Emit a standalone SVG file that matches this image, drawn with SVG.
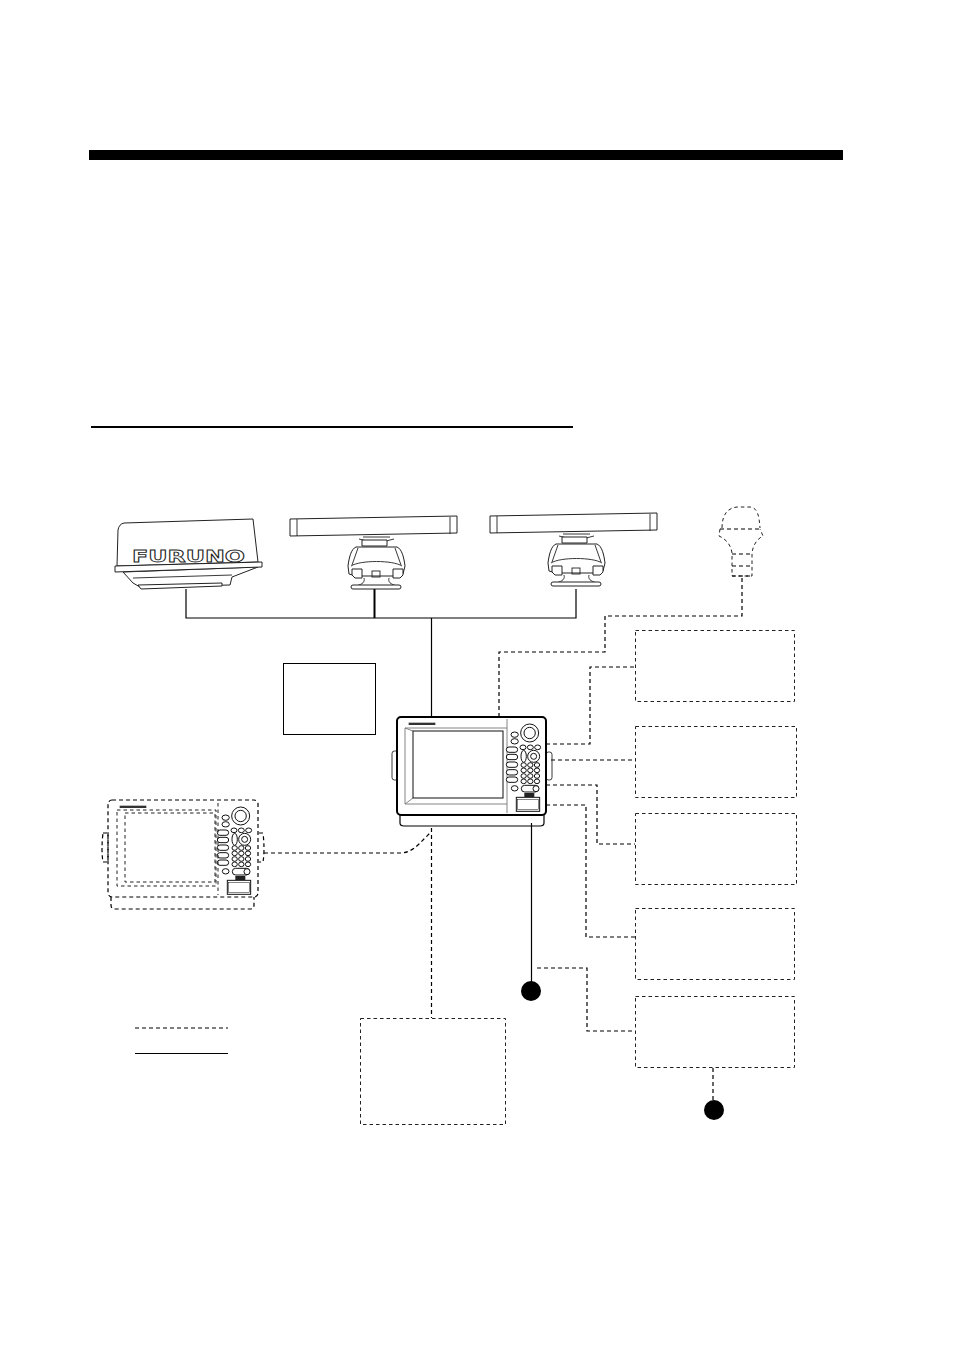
<svg xmlns="http://www.w3.org/2000/svg" width="954" height="1351" viewBox="0 0 954 1351">
<style>
.s{fill:none;stroke:#000;stroke-width:1.2}
.d{fill:none;stroke:#000;stroke-width:1.2;stroke-dasharray:4 3}
.box{fill:none;stroke:#222;stroke-width:1;stroke-dasharray:3.500 3}
.o{fill:#fff;stroke:#222;stroke-width:1}
.t{fill:none;stroke:#222;stroke-width:.9}
.g{fill:none;stroke:#777;stroke-width:.9}
.p{fill:#fff;stroke:#111;stroke-width:3}
.k{fill:#000}
</style>
<defs>
<g id="pedestal">
<path class="o" d="M0 3L167 0V17L0 20Z"/>
<path class="t" d="M7 3V20M160 1V18"/>
<path class="t" d="M73 21H100M69 23L77 25M96 25L104 23"/>
<path class="o" d="M72 24H97V30H72Z"/>
<path class="o" d="M66 31H107C112 33 114 42 115 50L113 58L108 60L66 60L59 58L58 50C59 42 61 33 66 31Z"/>
<path class="t" d="M61 50C70 44 103 44 112 50M68 32L62 49M105 32L111 49"/>
<path class="o" d="M62 53H72V62H65L62 59ZM103 53H113V59L110 62H103Z"/>
<rect class="t" x="82" y="55" width="8" height="6"/>
<path class="t" d="M74 62C75 66 73 68 66 70M99 62C98 66 100 68 107 70"/>
<rect class="o" x="61" y="69" width="50" height="4" rx="2"/>
</g>
<g id="panel" transform="scale(.3333) translate(-50,-52)">
<g class="p">
<circle cx="448" cy="100" r="27"/>
<circle cx="448" cy="100" r="17"/>
<ellipse cx="403" cy="105" rx="11" ry="8"/><ellipse cx="403" cy="125" rx="11" ry="8"/>
<rect x="378" y="142" width="34" height="16" rx="8"/><rect x="378" y="164" width="34" height="16" rx="8"/><rect x="378" y="187" width="34" height="16" rx="8"/><rect x="378" y="210" width="34" height="16" rx="8"/><rect x="378" y="232" width="34" height="16" rx="8"/>
<ellipse cx="403" cy="266" rx="10" ry="8"/>
<ellipse cx="428" cy="143" rx="9" ry="7"/><ellipse cx="450" cy="143" rx="9" ry="7"/><ellipse cx="472" cy="143" rx="9" ry="7"/>
<ellipse cx="430" cy="170" rx="8" ry="18"/>
<circle cx="460" cy="170" r="18"/><circle cx="460" cy="170" r="9"/>
<ellipse cx="430" cy="196" rx="8" ry="7"/><ellipse cx="450" cy="196" rx="8" ry="7"/><ellipse cx="470" cy="196" rx="8" ry="7"/>
<ellipse cx="430" cy="212" rx="8" ry="7"/><ellipse cx="450" cy="212" rx="8" ry="7"/><ellipse cx="470" cy="212" rx="8" ry="7"/>
<ellipse cx="430" cy="229" rx="8" ry="7"/><ellipse cx="450" cy="229" rx="8" ry="7"/><ellipse cx="470" cy="229" rx="8" ry="7"/>
<ellipse cx="430" cy="245" rx="8" ry="7"/><ellipse cx="450" cy="245" rx="8" ry="7"/><ellipse cx="470" cy="245" rx="8" ry="7"/>
<rect x="423" y="257" width="52" height="20" rx="10"/>
<circle cx="467" cy="267" r="9"/>
<rect x="408" y="293" width="70" height="42"/>
<rect x="412" y="300" width="62" height="30" stroke-width="1.500"/>
</g>
<path d="M432 280H462V292H432Z" fill="#222"/>
<path d="M85 69H165V76H85Z" fill="#333"/>
</g>
</defs>

<rect id="title-rule" x="89" y="150" width="754" height="10" fill="#000"/>
<rect id="heading-rule" x="91" y="426" width="482" height="2" fill="#000"/>

<g id="connectors">
<path class="s" d="M186 589V618H576V589M431.500 618V716"/>
<path d="M374.500 589V618" fill="none" stroke="#000" stroke-width="2"/>
<path class="d" d="M742 578V616H605V652H499V716"/>
<path class="d" d="M546 744H590V667H635"/>
<path class="d" d="M551 760H635"/>
<path class="d" d="M546 785H597V844H635"/>
<path class="d" d="M546 805H586V937H635"/>
<path class="d" d="M264 853H400Q410 853 419 844L431 832"/>
<path class="d" d="M431.500 828V1018"/>
<path class="s" d="M531.500 823V982"/>
<path class="d" d="M537 968H587V1031H635"/>
<path class="d" d="M713 1068V1100"/>
<path class="d" d="M135 1028H228"/>
<path class="s" d="M135 1053.500H228"/>
</g>

<g id="radome">
<path class="o" d="M124 523L253 519L258 562L117 566L118 530Q119 524 124 523Z"/>
<path class="o" d="M123 572L258 567L232 577L230 585L140 587L133 583Z"/>
<path class="t" d="M133 578L232 575"/>
<path class="o" d="M138 585L222 583V586L141 589Z"/>
<path class="o" d="M115 566L262 562V567L115 572Z"/>
<g opacity=".98" style="isolation:isolate"><text x="132" y="562" font-family="DejaVu Sans, sans-serif" font-size="16" font-weight="bold" textLength="113" lengthAdjust="spacingAndGlyphs" fill="#fff" stroke="#222" stroke-width=".8">FURUNO</text></g>
</g>
<use id="radar-1" href="#pedestal" transform="translate(290,516)"/>
<use id="radar-2" href="#pedestal" transform="translate(490,513)"/>

<g id="gps-antenna">
<path class="box" d="M722 528C722 514 728 508 737 507H750C758 508 759 516 760 528"/>
<path class="d" d="M720 529H760" stroke-width="1.500"/>
<path class="box" d="M720 529L719 536C726 539 731 545 732 553V576H752V553C753 545 757 539 763 536L760 529"/>
<path class="d" d="M732 554H752M732 566H752M732 576H752"/>
</g>

<g id="junction-box"><rect x="283.500" y="663.500" width="92" height="71" fill="none" stroke="#000" stroke-width="1"/></g>

<g id="main-display">
<rect class="t" x="392" y="751" width="6" height="29" rx="2.500"/>
<rect class="t" x="546" y="752" width="6" height="28" rx="2.500"/>
<path class="s" d="M400 815V823Q400 826 404 826H540Q544 826 544 823V815"/>
<rect x="397" y="717" width="149" height="98" rx="4" fill="#fff" stroke="#000" stroke-width="2"/>
<path class="g" d="M405 728H507M405 728V804H507M507 719V813M405 728L413 731M405 804L413 798"/>
<rect x="413" y="731" width="90" height="67" fill="none" stroke="#111" stroke-width="1"/>
<use href="#panel" transform="translate(397,717)"/>
</g>

<g id="remote-display">
<path class="d" d="M111 897V905Q111 909 115 909H250Q254 909 254 905V897"/>
<path class="d" d="M103 833H108V862H103Q101 850 103 833ZM259 833H263Q265 850 263 862H259"/>
<use href="#panel" transform="translate(108,800)"/>
<rect x="108" y="800" width="150" height="97" rx="4" class="d" stroke-width="1.800"/>
<path class="box" d="M117 810H216V886H117ZM125 813H215V882H125ZM218 803V895"/>
</g>

<g id="box-1"><rect class="box" x="635.500" y="630.500" width="159" height="71"/></g>
<g id="box-2"><rect class="box" x="635.500" y="726.500" width="161" height="71"/></g>
<g id="box-3"><rect class="box" x="635.500" y="813.500" width="161" height="71"/></g>
<g id="box-4"><rect class="box" x="635.500" y="908.500" width="159" height="71"/></g>
<g id="box-5"><rect class="box" x="635.500" y="996.500" width="159" height="71"/></g>
<g id="box-6"><rect class="box" x="360.500" y="1018.500" width="145" height="106"/></g>

<g id="dot-a"><circle class="k" cx="531" cy="991" r="10"/></g>
<g id="dot-b"><circle class="k" cx="714" cy="1110" r="10"/></g>
</svg>
